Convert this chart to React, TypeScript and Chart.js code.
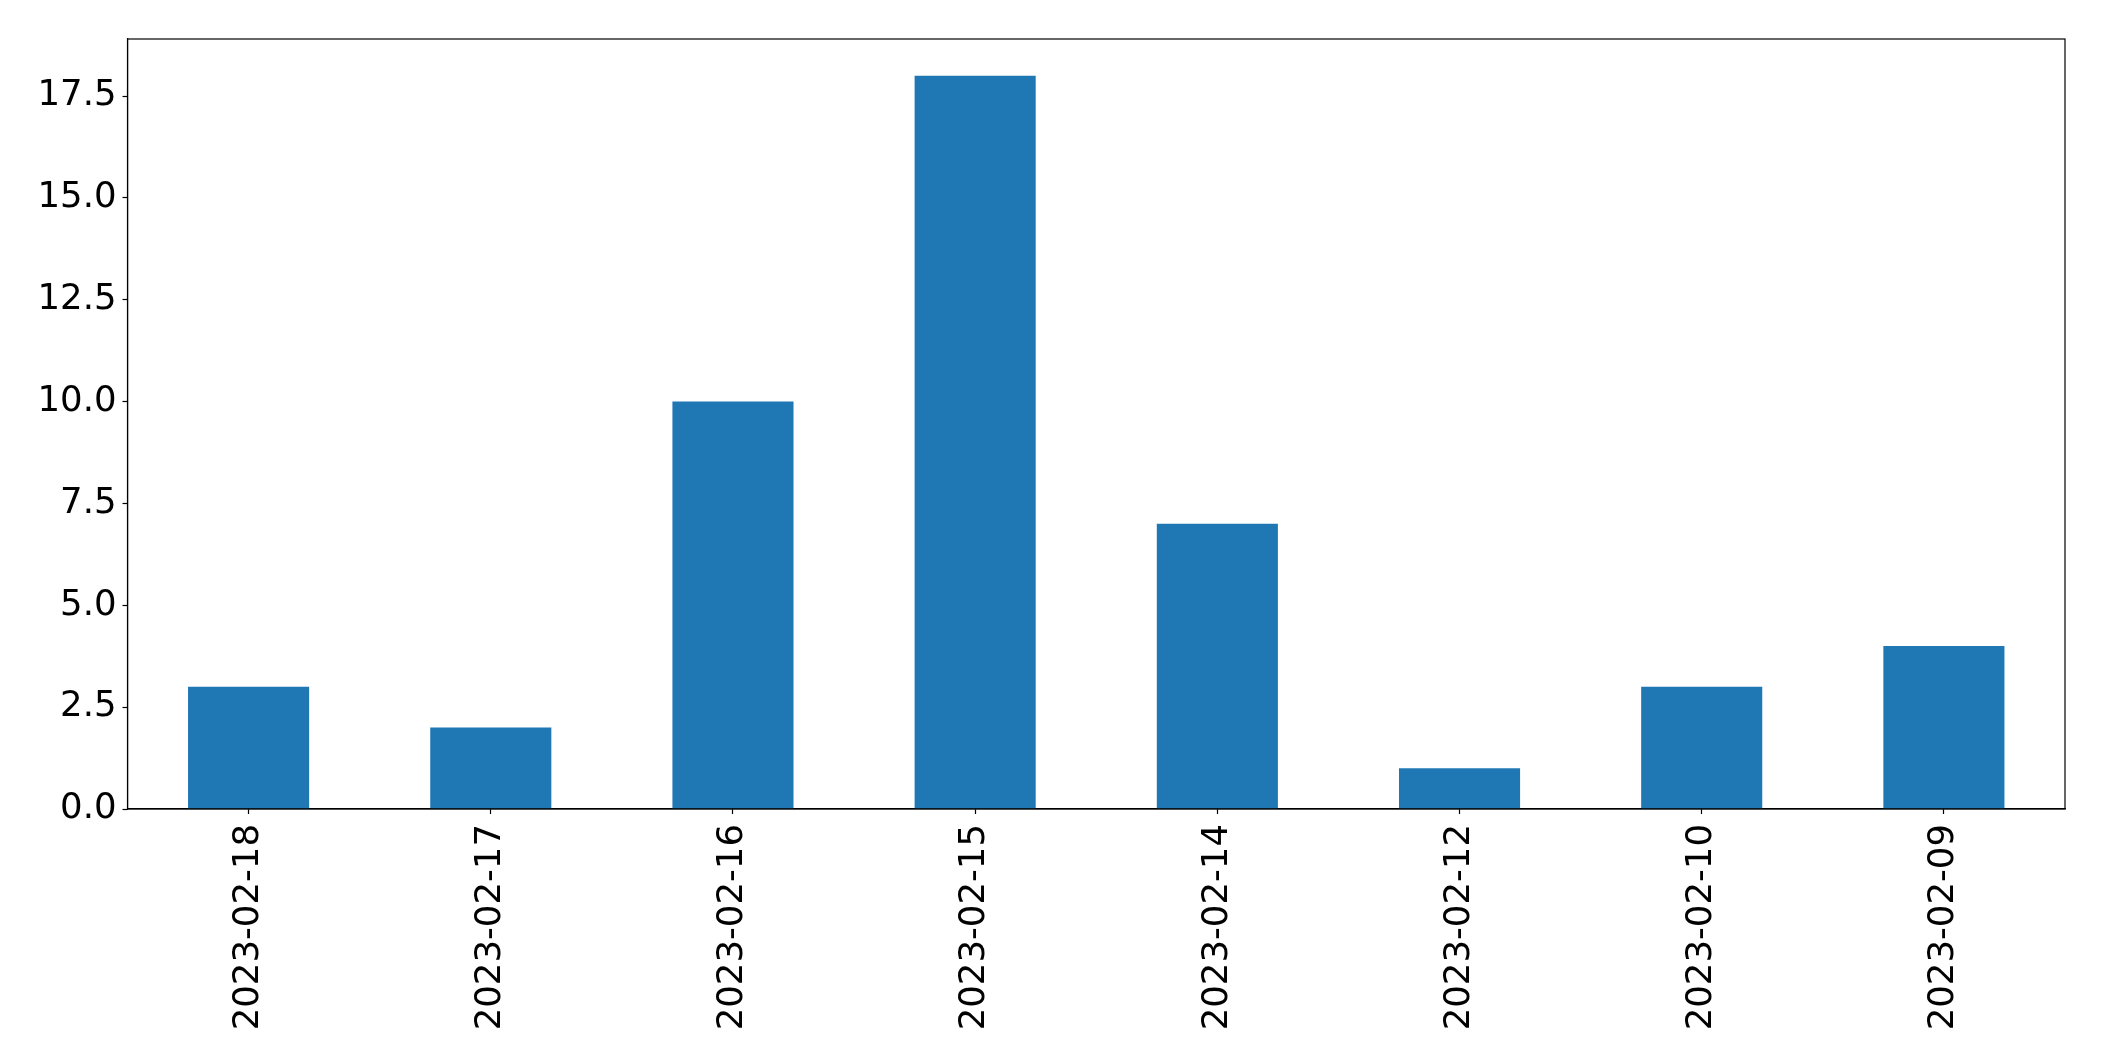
import React, { useEffect, useRef } from "react";
import { Chart, registerables } from "chart.js";

Chart.register(...registerables);

const categories = [
  "2023-02-18",
  "2023-02-17",
  "2023-02-16",
  "2023-02-15",
  "2023-02-14",
  "2023-02-12",
  "2023-02-10",
  "2023-02-09",
];
const counts = [3, 2, 10, 18, 7, 1, 3, 4];
const yMax = 18.9;
const yStep = 2.5;

const W = 2104;
const H = 1061;
const FONT = "'DejaVu Sans', sans-serif";
const FONT_SIZE = 35.5;

const framePlugin = {
  id: "frame",
  afterDatasetsDraw(chart: any) {
    const { ctx, chartArea } = chart;
    ctx.save();
    ctx.strokeStyle = "#000";
    ctx.lineWidth = 1.2;
    ctx.strokeRect(chartArea.left, chartArea.top, chartArea.right - chartArea.left, chartArea.bottom - chartArea.top);
    ctx.restore();
  },
};

export default function App() {
  const ref = useRef<HTMLCanvasElement | null>(null);
  useEffect(() => {
    if (!ref.current) return;
    const chart = new Chart(ref.current, {
      type: "bar",
      data: {
        labels: categories,
        datasets: [
          {
            data: counts,
            backgroundColor: "#1f77b4",
            borderWidth: 0,
            barPercentage: 0.5,
            categoryPercentage: 1.0,
          },
        ],
      },
      options: {
        responsive: false,
        animation: false,
        devicePixelRatio: 1,
        layout: { padding: { left: 0, top: 39, right: 39, bottom: 0 } },
        plugins: { legend: { display: false }, tooltip: { enabled: false } },
        scales: {
          x: {
            grid: {
              display: true,
              offset: false,
              drawOnChartArea: false,
              drawTicks: true,
              tickLength: 5,
              tickColor: "#000",
              tickWidth: 1.2,
            },
            border: { display: true, color: "#000", width: 1.2 },
            ticks: {
              color: "#000",
              font: { family: FONT, size: FONT_SIZE },
              minRotation: 90,
              maxRotation: 90,
              autoSkip: false,
              padding: 10,
            },
            afterFit(scale: any) {
              scale.height = 252;
            },
          },
          y: {
            min: 0,
            max: yMax,
            grid: { display: true, drawOnChartArea: false, drawTicks: true, tickLength: 5, tickColor: "#000", tickWidth: 1.2 },
            border: { display: true, color: "#000", width: 1.2 },
            ticks: {
              color: "#000",
              font: { family: FONT, size: FONT_SIZE },
              stepSize: yStep,
              includeBounds: false,
              padding: 6,
              callback: (v: any) => Number(v).toFixed(1),
            },
            afterFit(scale: any) {
              scale.width = 127.5;
            },
          },
        },
      },
      plugins: [framePlugin],
    } as any);
    return () => chart.destroy();
  }, []);
  return (
    <div style={{ position: "fixed", left: 0, top: 0, width: W, height: H, background: "#fff" }}>
      <canvas ref={ref} width={W} height={H} style={{ width: W, height: H, display: "block" }} />
    </div>
  );
}
